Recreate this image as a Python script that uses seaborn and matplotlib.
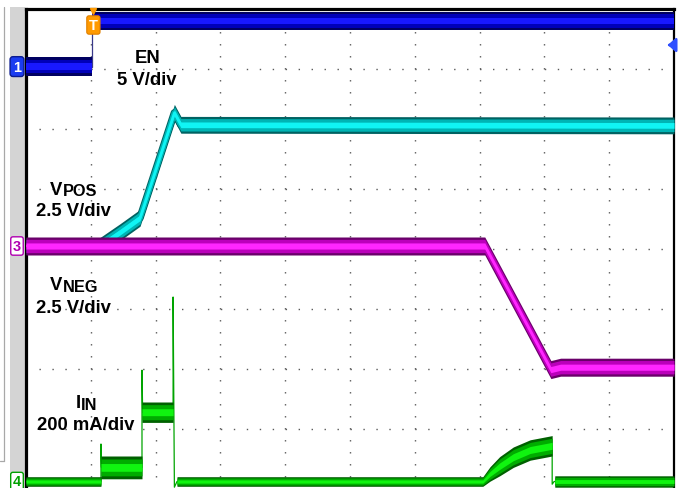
import numpy as np
import matplotlib
matplotlib.use("Agg")
import matplotlib.pyplot as plt
import matplotlib.transforms as mtransforms
from matplotlib.patches import Rectangle
from matplotlib.lines import Line2D
import seaborn as sns

# ---------------- data (screen divisions: 10 horizontal x 8 vertical) ----------------
# EN (channel 1, 5 V/div)
en_t = [0.0, 1.02, 1.02, 10.0]
en_v = [7.04, 7.04, 7.80, 7.80]
en_hw = 0.155
trig_level = 7.40

# VPOS (channel 2, 2.5 V/div)
vpos_t = [0.0, 1.14, 1.45, 1.76, 2.29, 2.39, 10.0]
vpos_v = [4.05, 4.05, 4.28, 4.52, 6.27, 6.07, 6.06]
vpos_hw = 0.14

# VNEG (channel 3, 2.5 V/div)
vneg_t = [0.0, 7.08, 8.10, 8.25, 10.0]
vneg_v = [4.05, 4.05, 1.99, 2.03, 2.03]
vneg_hw = 0.15

# IIN (channel 4, 200 mA/div) - thin trace including spikes
iin_t = [0.0, 1.157, 1.157, 1.165, 1.79, 1.79, 1.80, 2.27, 2.27, 2.29, 2.33,
         7.05, 7.16, 7.31, 7.52, 7.78, 8.12, 8.12, 8.15, 10.0]
iin_v = [0.125, 0.125, 0.75, 0.36, 0.36, 1.98, 1.28, 1.28, 3.20, 0.03, 0.125,
         0.125, 0.25, 0.38, 0.53, 0.65, 0.72, 0.08, 0.125, 0.125]
# IIN noise envelope (centre / half-width)
iin_band_t = [0.0, 1.157, 1.157, 1.79, 1.79, 2.27, 2.27, 2.33, 2.33, 7.05, 7.16,
              7.31, 7.52, 7.78, 8.12, 8.12, 8.16, 8.16, 10.0]
iin_band_c = [0.125, 0.125, 0.36, 0.36, 1.28, 1.28, 0.125, 0.125, 0.125, 0.125, 0.25,
              0.38, 0.53, 0.65, 0.72, 0.125, 0.125, 0.125, 0.125]
iin_band_hw = [0.08, 0.08, 0.19, 0.19, 0.17, 0.17, 0.0, 0.0, 0.08, 0.08, 0.12,
               0.16, 0.17, 0.17, 0.17, 0.0, 0.0, 0.095, 0.095]

labels = {"en": ("EN", "", "5 V/div"),
          "vpos": ("V", "POS", "2.5 V/div"),
          "vneg": ("V", "NEG", "2.5 V/div"),
          "iin": ("I", "IN", "200 mA/div")}

# ---------------- figure ----------------
sns.set_theme(style="white")
plt.rcParams["font.family"] = ["Liberation Sans", "DejaVu Sans"]

W, H = 682, 489
fig = plt.figure(figsize=(W / 100, H / 100), dpi=100)
fig.patch.set_facecolor("white")
ax = fig.add_axes([26 / W, -1 / H, 648 / W, 480 / H])
ax.set_xlim(0, 10)
ax.set_ylim(0, 8)
ax.set_xticks(np.arange(11))
ax.set_yticks(np.arange(9))
ax.set_xticklabels([])
ax.set_yticklabels([])
ax.tick_params(length=0)
ax.set_facecolor("white")
ax.xaxis.grid(True, color="#5a5a5a", lw=1.0, linestyle=(0, (1, 7.64)))
ax.yaxis.grid(True, color="#5a5a5a", lw=1.0, linestyle=(0, (1, 8.33)))
ax.set_axisbelow(True)
for s in ["left", "top"]:
    ax.spines[s].set_linewidth(2.3)
    ax.spines[s].set_color("black")
ax.spines["right"].set_linewidth(1.6)
ax.spines["right"].set_color("black")
ax.spines["bottom"].set_visible(False)


def band(t, c, hw, cols, z, line_w=None):
    t = np.asarray(t, float)
    c = np.asarray(c, float)
    hw = np.broadcast_to(np.asarray(hw, float), t.shape)
    for f, col in zip([1.0, 0.74, 0.34], cols):
        ax.fill_between(t, c - hw * f, c + hw * f, color=col, lw=0, zorder=z)
        if line_w:
            sns.lineplot(x=t, y=c, ax=ax, color=col, linewidth=line_w * f,
                         sort=False, estimator=None, zorder=z)


# EN
sns.lineplot(x=en_t, y=en_v, ax=ax, color="#3a3a8a", linewidth=0.9,
             sort=False, estimator=None, zorder=3)
band(en_t, en_v, en_hw, ["#000060", "#0000b8", "#1818ff"], 3)
# VPOS (below VNEG)
band(vpos_t, vpos_v, vpos_hw, ["#006262", "#00b4b4", "#10f4f4"], 4, line_w=5.4)
# VNEG
band(vneg_t, vneg_v, vneg_hw, ["#6a006a", "#bb00bb", "#ff26ff"], 5, line_w=3.4)
# IIN
sns.lineplot(x=iin_t, y=iin_v, ax=ax, color="#00a400", linewidth=0.9,
             sort=False, estimator=None, zorder=6)
band(iin_band_t, iin_band_c, iin_band_hw, ["#006000", "#00ac00", "#10f410"], 6)


def fx(px):
    return px / W


def fy(py):
    return 1 - py / H


def ftext(px, py, s, size, ha="left"):
    fig.text(fx(px), fy(py), s, fontsize=size, fontweight="bold", ha=ha,
             va="baseline", color="black")


# trace labels
ftext(148, 63, labels["en"][0], 13.3, "center")
ftext(147, 85, labels["en"][2], 13.3, "center")
ftext(50, 195, labels["vpos"][0], 13.3)
ftext(63, 196.5, labels["vpos"][1], 11.8)
ftext(73.5, 216, labels["vpos"][2], 13.3, "center")
ftext(50, 290, labels["vneg"][0], 13.3)
ftext(63, 292.5, labels["vneg"][1], 11.8)
ftext(73.5, 313, labels["vneg"][2], 13.3, "center")
ftext(75.5, 408, labels["iin"][0], 13.3)
ftext(80.5, 409.5, labels["iin"][1], 11.8)
ftext(86, 430, labels["iin"][2], 13.3, "center")

# left gray panel and box outline
fig.add_artist(Rectangle((9.5 / W, 0), 15 / W, 1 - 8 / H, transform=fig.transFigure,
                         facecolor="#d4d4d4", edgecolor="none", zorder=0))
fig.add_artist(Line2D([fx(4), fx(4)], [fy(8), fy(462)], color="#a8a8a8", lw=0.9))
fig.add_artist(Line2D([0, fx(4)], [fy(462), fy(462)], color="#a8a8a8", lw=0.9))

# channel markers on the left
blend = mtransforms.blended_transform_factory(fig.transFigure, ax.transData)
mk = dict(ha="center", va="center", fontsize=10.5, fontweight="bold", transform=blend,
          clip_on=False, zorder=10)
fig.text(fx(17), en_v[0], "1", color="white",
         bbox=dict(boxstyle="round,pad=0.2", fc="#1a3cf0", ec="#0a1a90", lw=1.0), **mk)
fig.text(fx(17), vneg_v[0], "3", color="#b000b0",
         bbox=dict(boxstyle="round,pad=0.15", fc="white", ec="#b000b0", lw=1.0), **mk)
fig.text(fx(17), iin_v[0], "4", color="#00a000",
         bbox=dict(boxstyle="round,pad=0.15", fc="white", ec="#00a000", lw=1.0), **mk)

# trigger marker at the top
blend2 = mtransforms.blended_transform_factory(ax.transData, fig.transFigure)
trig_t = en_t[1]
ax.text(trig_t + 0.02, fy(26), "T", color="white", ha="center", va="center", fontsize=10.5,
        fontweight="bold", transform=blend2, clip_on=False, zorder=12,
        bbox=dict(boxstyle="round,pad=0.15", fc="#ff9a00", ec="#e08000", lw=0.8))
ax.plot([trig_t + 0.02], [fy(12)], transform=blend2, marker="v", ms=5,
        color="#ff9a00", clip_on=False, zorder=12)

# trigger level arrow at the right
ax.annotate("", xy=(9.86, trig_level), xytext=(9.99, trig_level),
            arrowprops=dict(arrowstyle="-|>,head_length=0.4,head_width=0.35",
                            color="#3050ff", lw=1.8, mutation_scale=12),
            zorder=12, annotation_clip=False)

fig.savefig("out.png", dpi=100)
